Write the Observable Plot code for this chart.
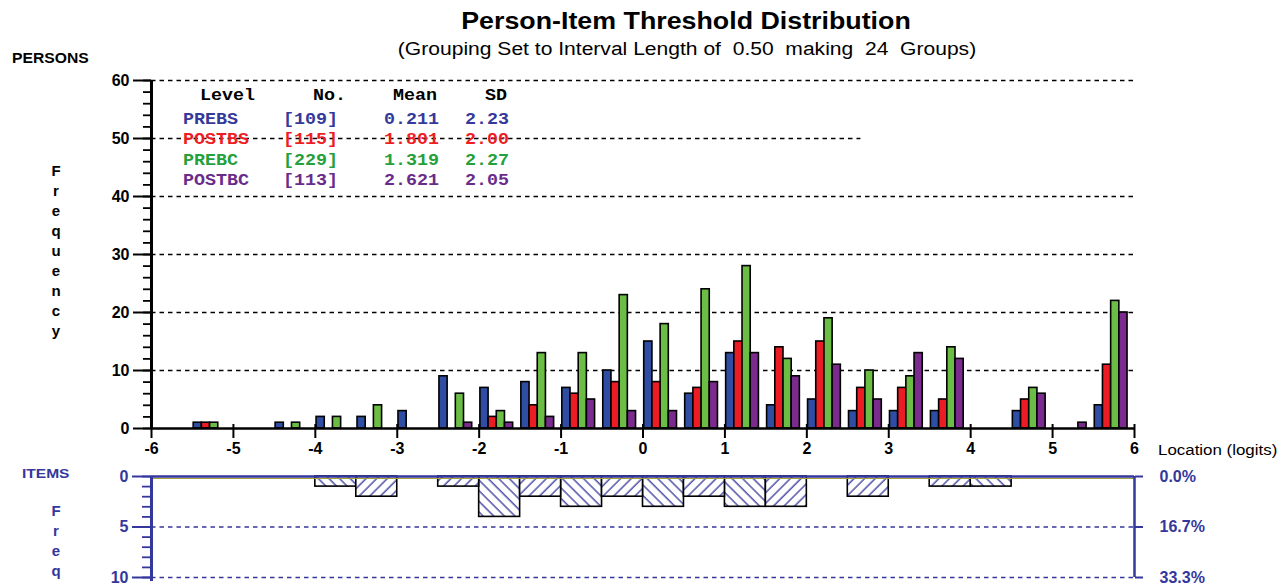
<!DOCTYPE html>
<html>
<head>
<meta charset="utf-8">
<script src="https://cdn.jsdelivr.net/npm/d3@7"></script>
<script src="https://cdn.jsdelivr.net/npm/@observablehq/plot@0.6"></script>
<style>
  html, body { margin: 0; padding: 0; background: #fff; overflow: hidden; }
  #wrap { position: relative; width: 1282px; height: 583px; overflow: hidden; font-family: "Liberation Sans", Arial, sans-serif; }
  #wrap svg { position: absolute; left: 0; }
  .t { position: absolute; white-space: pre; line-height: 1; }
</style>
</head>
<body>
<div id="wrap"></div>
<script>
// ---------- DATA ----------
const groupStarts = [-6, -5.5, -5, -4.5, -4, -3.5, -3, -2.5, -2, -1.5, -1, -0.5, 0, 0.5, 1, 1.5, 2, 2.5, 3, 3.5, 4, 4.5, 5, 5.5];
const prebs  = [0, 1, 0, 1, 2, 2, 3, 9, 7, 8, 7, 10, 15, 6, 13, 4, 5, 3, 3, 3, 0, 3, 0, 4];
const postbs = [0, 1, 0, 0, 0, 0, 0, 0, 2, 4, 6, 8, 8, 7, 15, 14, 15, 7, 7, 5, 0, 5, 0, 11];
const prebc  = [0, 1, 0, 1, 2, 4, 0, 6, 3, 13, 13, 23, 18, 24, 28, 12, 19, 10, 9, 14, 0, 7, 0, 22];
const postbc = [0, 0, 0, 0, 0, 0, 0, 1, 1, 2, 5, 3, 3, 8, 13, 9, 11, 5, 13, 12, 0, 6, 1, 20];

const seriesNames = ["PREBS", "POSTBS", "PREBC", "POSTBC"];
const legendN     = ["[109]", "[115]", "[229]", "[113]"];
const legendMean  = ["0.211", "1.801", "1.319", "2.621"];
const legendSD    = ["2.23", "2.00", "2.27", "2.05"];

const itemStarts = [-4, -3.5, -2.5, -2, -1.5, -1, -0.5, 0, 0.5, 1, 1.5, 2.5, 3.5, 4];
const itemCounts = [1, 2, 1, 4, 2, 3, 2, 3, 2, 3, 3, 2, 1, 1];

const xTicks = [-6, -5, -4, -3, -2, -1, 0, 1, 2, 3, 4, 5, 6];
const yTicks = [0, 10, 20, 30, 40, 50, 60];
const yMinorTicks = [0, 2, 4, 6, 8, 10, 12, 14, 16, 18, 20, 22, 24, 26, 28, 30, 32, 34, 36, 38, 40, 42, 44, 46, 48, 50, 52, 54, 56, 58, 60];
const itemTicks = [0, 5, 10];
const itemMinorTicks = [0, 1, 2, 3, 4, 5, 6, 7, 8, 9, 10];

// ---------- STYLE ----------
const barColors = ["#2f4ea3", "#ec1c24", "#6cbd46", "#7b2b8d"];
const legendColors = ["#34399a", "#ee1d25", "#24a03c", "#6a2c8c"];
const navy = "#34379c";
const binWidth = 0.5, barWidth = 0.1, barOffset = 0.015;

const seriesValues = [prebs, postbs, prebc, postbc];
const bars = [];
seriesValues.forEach((vals, s) => {
  vals.forEach((v, g) => {
    if (v > 0) bars.push({s, v, x1: groupStarts[g] + barOffset + s * barWidth, x2: groupStarts[g] + barOffset + (s + 1) * barWidth});
  });
});
const items = itemStarts.map((x, i) => ({x1: x, x2: x + binWidth, n: itemCounts[i], back: Number.isInteger(x)}));
const itemTotal = d3.sum(itemCounts);

const wrap = document.getElementById("wrap");
const baseStyle = {fontFamily: "'Liberation Sans', Arial, sans-serif", fontSize: "16px", fontWeight: "bold", background: "transparent", overflow: "visible"};

// ---------- TOP CHART ----------
const topChart = Plot.plot({
  width: 1282, height: 460,
  marginLeft: 151, marginRight: 148, marginTop: 80, marginBottom: 32,
  x: {domain: [-6, 6]},
  y: {domain: [0, 60]},
  style: {...baseStyle, color: "black"},
  marks: [
    Plot.ruleY([10, 20, 30, 40, 60], {stroke: "#000", strokeWidth: 1.7, strokeDasharray: "4.5,4"}),
    Plot.ruleY([50], {x1: -6, x2: 2.66, stroke: "#000", strokeWidth: 1.7, strokeDasharray: "4.5,4"}),
    ...seriesValues.map((_, s) => Plot.rectY(bars.filter(d => d.s === s), {
      x1: "x1", x2: "x2", y1: 0, y2: "v", fill: barColors[s], stroke: "#000", strokeWidth: 1.6, inset: 0
    })),
    Plot.axisY({ticks: yMinorTicks, anchor: "left", tickSize: 8, tickFormat: () => "", label: null, strokeWidth: 1.8}),
    Plot.axisY({ticks: yTicks, anchor: "left", tickSize: 18, tickPadding: 4, label: null, strokeWidth: 2, tickFormat: d => String(d)}),
    Plot.ruleX([-6], {y1: 0, y2: 60, stroke: "#000", strokeWidth: 3}),
    Plot.ruleY([0], {stroke: "#000", strokeWidth: 2.5}),
    Plot.axisX({ticks: xTicks, anchor: "bottom", tickSize: 10, tickPadding: 4, label: null, strokeWidth: 2, tickFormat: d => String(d)}),
    Plot.axisX({ticks: xTicks, anchor: "bottom", tickSize: -4, tickFormat: () => "", label: null, strokeWidth: 2})
  ]
});
topChart.style.top = "0px";
wrap.appendChild(topChart);

// ---------- ITEMS CHART ----------
const itemChart = Plot.plot({
  width: 1282, height: 123,
  marginLeft: 151, marginRight: 148, marginTop: 16, marginBottom: 6,
  x: {domain: [-6, 6], axis: null},
  y: {domain: [0, 10], reverse: true},
  style: {...baseStyle, color: navy},
  marks: [
    Plot.ruleY([5, 10], {stroke: navy, strokeWidth: 1.7, strokeDasharray: "4.5,4"}),
    Plot.rectY(items.filter(d => d.back), {x1: "x1", x2: "x2", y1: 0, y2: "n", fill: "url(#hatchBack)", stroke: "#000", strokeWidth: 1.6}),
    Plot.rectY(items.filter(d => !d.back), {x1: "x1", x2: "x2", y1: 0, y2: "n", fill: "url(#hatchFwd)", stroke: "#000", strokeWidth: 1.6}),
    Plot.ruleY([0], {dy: 2, stroke: "#a4a040", strokeWidth: 1}),
    Plot.ruleY([0], {stroke: navy, strokeWidth: 2.5}),
    Plot.axisY({ticks: itemMinorTicks, anchor: "left", tickSize: 9, tickFormat: () => "", label: null, strokeWidth: 1.8, stroke: navy}),
    Plot.axisY({ticks: itemTicks, anchor: "left", tickSize: 19, tickPadding: 4, label: null, strokeWidth: 2, stroke: navy, tickFormat: d => String(d)}),
    Plot.ruleX([-6], {y1: 0, y2: 10.4, stroke: navy, strokeWidth: 3}),
    Plot.ruleX([6], {y1: 0, y2: 10, stroke: navy, strokeWidth: 2.5}),
    Plot.axisY({ticks: itemTicks, anchor: "right", tickSize: 8, tickPadding: 17, label: null, strokeWidth: 2, stroke: navy,
      tickFormat: d => (d / itemTotal * 100).toFixed(1) + "%"})
  ]
});
itemChart.style.top = "460px";
wrap.appendChild(itemChart);

// hatch patterns
const defs = d3.select(itemChart).insert("defs", ":first-child");
[["hatchFwd", 45], ["hatchBack", -45]].forEach(([id, ang]) => {
  const p = defs.append("pattern").attr("id", id).attr("patternUnits", "userSpaceOnUse")
    .attr("width", 7.5).attr("height", 7.5).attr("patternTransform", `rotate(${ang})`);
  p.append("rect").attr("width", 7.5).attr("height", 7.5).attr("fill", "#fff");
  p.append("line").attr("x1", 2).attr("y1", 0).attr("x2", 2).attr("y2", 7.5).attr("stroke", navy).attr("stroke-width", 1.3);
});

// ---------- TEXT ----------
function txt(s, left, cy, css, center, sx) {
  const d = document.createElement("div");
  d.className = "t";
  d.textContent = s;
  Object.assign(d.style, css || {});
  const fs = parseFloat(d.style.fontSize || "14");
  d.style.left = left + "px";
  d.style.top = (cy - fs / 2) + "px";
  sx = sx || 1;
  if (center) {
    d.style.transformOrigin = "50% 50%";
    d.style.transform = `translateX(-50%) scaleX(${sx})`;
  } else if (sx !== 1) {
    d.style.transformOrigin = "0 50%";
    d.style.transform = `scaleX(${sx})`;
  }
  wrap.appendChild(d);
  return d;
}
txt("Person-Item Threshold Distribution", 686, 22, {fontSize: "23.5px", fontWeight: "bold", color: "#000"}, true, 1.14);
txt("(Grouping Set to Interval Length of  0.50  making  24  Groups)", 687, 49, {fontSize: "18px", color: "#000"}, true, 1.17);
txt("PERSONS", 12, 58, {fontSize: "14px", fontWeight: "bold", color: "#000"}, false, 1.12);
"Frequency".split("").forEach((c, i) => txt(c, 56, 170 + i * 20, {fontSize: "15px", fontWeight: "bold", color: "#000"}, true));
txt("Location (logits)", 1158, 450, {fontSize: "15.5px", color: "#000"}, false, 1.09);
txt("ITEMS", 22, 474, {fontSize: "13.5px", fontWeight: "bold", color: navy}, false, 1.15);
"Freq".split("").forEach((c, i) => txt(c, 56, 510 + i * 20, {fontSize: "15px", fontWeight: "bold", color: navy}, true));

const mono = {fontFamily: "'Liberation Mono', 'DejaVu Sans Mono', monospace", fontSize: "17px", fontWeight: "bold"};
const ms = 1.08;
txt("Level", 200, 95, {...mono, color: "#000"}, false, ms);
txt("No.", 313, 95, {...mono, color: "#000"}, false, ms);
txt("Mean", 393, 95, {...mono, color: "#000"}, false, ms);
txt("SD", 485, 95, {...mono, color: "#000"}, false, ms);
const rowY = [119, 139, 160, 180];
seriesNames.forEach((name, i) => {
  const c = {...mono, color: legendColors[i]};
  txt(name, 183, rowY[i], c, false, ms);
  txt(legendN[i], 283, rowY[i], c, false, ms);
  txt(legendMean[i], 384, rowY[i], c, false, ms);
  txt(legendSD[i], 465, rowY[i], c, false, ms);
});
</script>
</body>
</html>
